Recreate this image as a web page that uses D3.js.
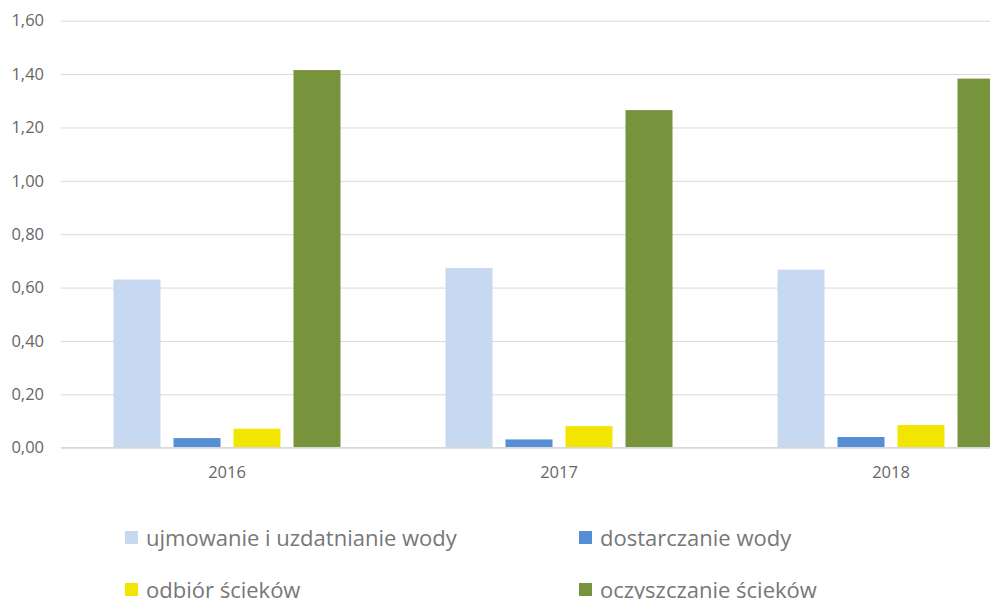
<!DOCTYPE html>
<html>
<head>
<meta charset="utf-8">
<script src="https://cdn.jsdelivr.net/npm/d3@7"></script>
<style>
  body { margin: 0; background: #fff; overflow: hidden; }
  text { font-family: "Open Sans", "Noto Sans", sans-serif; }
</style>
</head>
<body>
<div class="content"></div>
<script>
// Chart data
var years = ["2016", "2017", "2018"];
var seriesNames = [
  "ujmowanie i uzdatnianie wody",
  "dostarczanie wody",
  "odbiór ścieków",
  "oczyszczanie ścieków"
];
var ujmowanie = [0.63, 0.673, 0.667];
var dostarczanie = [0.036, 0.031, 0.040];
var odbior = [0.071, 0.081, 0.085];
var oczyszczanie = [1.415, 1.265, 1.383];
var yTicks = [0, 0.2, 0.4, 0.6, 0.8, 1.0, 1.2, 1.4, 1.6];

var seriesColors = ["#c6d9f1", "#558ed5", "#f2e600", "#77933c"];

var width = 990, height = 599;

var svg = d3.select(".content").append("svg")
    .attr("width", width)
    .attr("height", height);

// scales
var x0 = d3.scaleBand()
  .domain(years)
  .range([61, 1057]);

var x1 = d3.scaleBand()
  .domain(seriesNames)
  .range([52.5, 279.5])
  .paddingInner(13 / 60);

var y = d3.scaleLinear()
  .domain([0, 1.6])
  .range([447.7, 20.7]);

// gridlines + y labels
var yAxis = d3.axisLeft(y)
  .tickValues(yTicks)
  .tickSize(-(width - 61))
  .tickFormat(function(d) { return d3.format(".2f")(d).replace(".", ","); });

svg.append("g")
  .attr("transform", "translate(61,0)")
  .call(yAxis)
  .call(function(g) {
    g.select(".domain").remove();
    g.selectAll(".tick line").attr("stroke", "#d9d9d9").attr("stroke-width", 1);
    g.selectAll(".tick text")
      .attr("x", -17)
      .attr("fill", "#666")
      .style("font-size", "16.5px");
  });

// bars
var rows = years.map(function(yr, i) {
  return {
    year: yr,
    values: [ujmowanie[i], dostarczanie[i], odbior[i], oczyszczanie[i]]
  };
});

var groups = svg.selectAll(".yearGroup")
  .data(rows)
  .enter()
  .append("g")
    .attr("class", "yearGroup")
    .attr("transform", function(d) { return "translate(" + x0(d.year) + ",0)"; });

groups.selectAll("rect")
  .data(function(d) {
    return d.values.map(function(v, j) { return {name: seriesNames[j], value: v, idx: j}; });
  })
  .enter()
  .append("rect")
    .attr("x", function(d) { return x1(d.name); })
    .attr("y", function(d) { return y(d.value); })
    .attr("width", x1.bandwidth())
    .attr("height", function(d) { return y(0) - y(d.value); })
    .attr("fill", function(d) { return seriesColors[d.idx]; });

// baseline redrawn on top
svg.append("line")
  .attr("x1", 61)
  .attr("x2", width)
  .attr("y1", y(0))
  .attr("y2", y(0))
  .attr("stroke", "#d9d9d9")
  .attr("stroke-width", 1.5);

// x axis labels
var xAxis = d3.axisBottom(x0).tickSize(0);
svg.append("g")
  .attr("transform", "translate(0," + y(0) + ")")
  .call(xAxis)
  .call(function(g) {
    g.select(".domain").remove();
    g.selectAll(".tick text")
      .attr("dy", 0)
      .attr("y", 30)
      .attr("fill", "#666")
      .style("font-size", "16.5px");
  });

// legend
var legendPos = [[125, 531], [579, 531], [125, 583], [579, 583]];
var legend = svg.selectAll(".legendItem")
  .data(seriesNames)
  .enter()
  .append("g")
    .attr("class", "legendItem")
    .attr("transform", function(d, i) { return "translate(" + legendPos[i][0] + "," + legendPos[i][1] + ")"; });

legend.append("rect")
  .attr("width", 13)
  .attr("height", 13)
  .attr("fill", function(d, i) { return seriesColors[i]; });

legend.append("text")
  .attr("x", 21)
  .attr("y", 15)
  .attr("fill", "#777")
  .style("font-size", "22px")
  .text(function(d) { return d; });
</script>
</body>
</html>
